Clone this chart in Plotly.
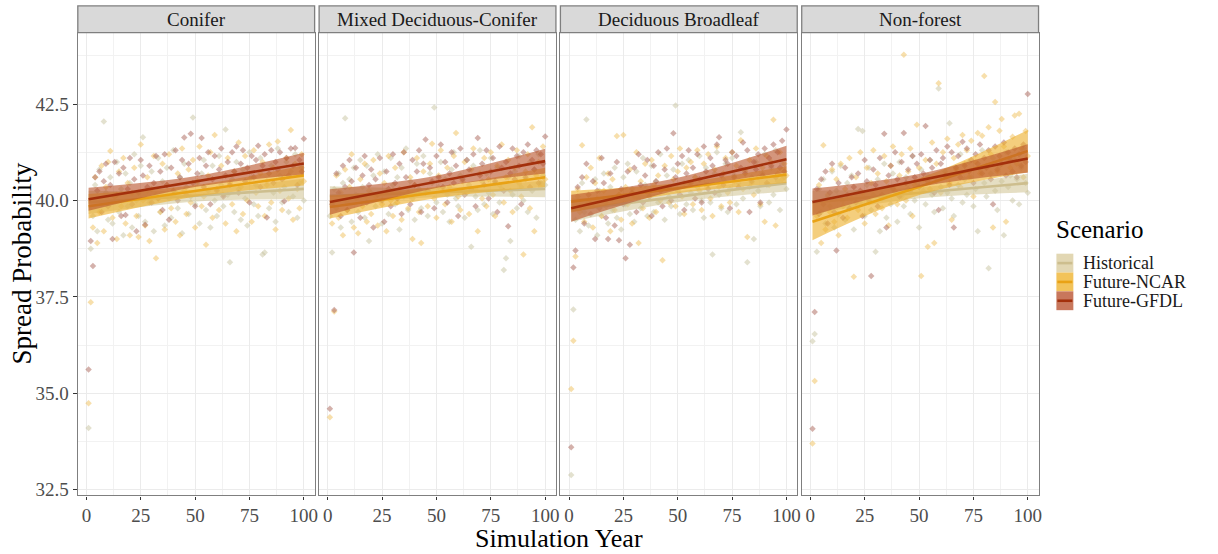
import plotly.graph_objects as go

W, H = 1218, 554

facets = ["Conifer", "Mixed Deciduous-Conifer", "Deciduous Broadleaf", "Non-forest"]
scenarios = ["Historical", "Future-NCAR", "Future-GFDL"]
years = list(range(1, 101))
x_ticks = [0, 25, 50, 75, 100]
y_ticks = [32.5, 35.0, 37.5, 40.0, 42.5]
y_tick_text = ["32.5", "35.0", "37.5", "40.0", "42.5"]

# ---------------- scatter values (years 1..100) ----------------
hist_conifer = [34.10, 38.75, 39.60, 40.40, 39.20, 40.80, 39.90, 42.05, 40.20, 39.50,
                40.60, 39.40, 40.10, 41.00, 39.70, 40.30, 39.10, 40.70, 39.85, 40.45,
                39.30, 41.20, 40.00, 39.60, 40.90, 41.64, 39.45, 40.25, 39.95, 40.75,
                39.20, 40.15, 41.10, 39.70, 40.50, 39.35, 40.85, 40.05, 39.55, 41.30,
                40.20, 39.80, 40.60, 39.15, 40.95, 40.35, 39.65, 40.10, 42.15, 39.90,
                40.45, 39.40, 40.70, 41.05, 39.75, 40.25, 39.30, 40.90, 40.00, 39.60,
                41.15, 40.40, 39.85, 41.84, 40.15, 38.40, 40.55, 39.70, 41.00, 40.30,
                39.50, 40.80, 40.05, 39.35, 41.25, 40.60, 39.90, 40.40, 39.60, 41.10,
                38.60, 38.65, 40.50, 39.80, 40.90, 40.20, 39.45, 41.35, 40.65, 39.95,
                40.35, 41.00, 39.70, 40.75, 40.10, 41.20, 39.55, 40.45, 40.85, 40.00]
ncar_conifer = [34.74, 37.36, 39.30, 40.60, 38.90, 39.70, 40.90, 39.20, 40.35, 41.00,
                41.28, 39.55, 40.10, 39.00, 40.75, 39.85, 41.10, 39.40, 40.45, 39.10,
                40.20, 40.85, 39.60, 39.05, 41.45, 40.00, 39.35, 40.60, 38.95, 40.30,
                41.15, 38.50, 40.05, 39.70, 40.95, 39.25, 40.40, 41.20, 39.80, 40.15,
                39.45, 40.70, 39.10, 41.35, 40.25, 39.65, 40.80, 39.95, 41.05, 39.30,
                40.50, 41.40, 39.85, 40.10, 38.85, 40.65, 41.25, 39.55, 41.70, 40.30,
                39.75, 40.90, 40.15, 39.40, 41.10, 40.45, 39.90, 40.75, 39.20, 41.50,
                40.35, 39.65, 41.15, 40.00, 40.55, 39.45, 41.30, 40.20, 39.85, 40.70,
                41.00, 39.60, 40.40, 41.45, 39.95, 40.85, 39.25, 41.53, 40.25, 39.75,
                40.60, 41.10, 40.05, 41.83, 39.50, 40.95, 40.30, 39.80, 41.20, 40.50]
gfdl_conifer = [35.62, 38.95, 38.30, 40.60, 40.25, 40.75, 39.70, 40.50, 40.95, 39.85,
                40.40, 39.00, 41.00, 40.15, 40.70, 39.60, 40.85, 39.62, 40.30, 41.10,
                39.90, 40.55, 39.20, 40.20, 41.05, 40.65, 39.37, 40.35, 40.90, 39.95,
                40.45, 41.15, 40.05, 40.75, 39.75, 41.20, 40.40, 39.50, 40.85, 40.25,
                41.30, 40.00, 40.60, 41.05, 41.63, 40.15, 40.95, 41.73, 40.45, 39.85,
                40.70, 41.10, 41.62, 40.35, 40.90, 41.25, 39.90, 40.55, 41.15, 40.25,
                40.80, 41.35, 40.10, 40.65, 41.00, 40.40, 41.25, 40.75, 41.40, 40.20,
                40.95, 41.30, 40.50, 40.85, 39.95, 41.15, 40.60, 41.05, 41.42, 40.35,
                40.90, 41.20, 39.56, 40.70, 41.30, 40.45, 41.00, 40.80, 41.25, 40.55,
                39.98, 41.10, 40.65, 41.35, 40.90, 41.36, 40.40, 41.05, 40.75, 41.60]

hist_mixed = [39.60, 38.65, 40.30, 39.80, 40.70, 39.30, 40.45, 42.13, 39.95, 40.55,
              39.45, 40.85, 40.15, 39.70, 41.05, 40.35, 39.55, 40.90, 38.95, 40.20,
              40.65, 39.85, 41.20, 40.00, 39.40, 40.75, 40.25, 39.65, 41.10, 40.40,
              39.90, 40.60, 39.25, 40.85, 40.10, 41.35, 39.75, 40.50, 40.05, 39.50,
              40.95, 40.30, 39.80, 41.15, 40.20, 39.60, 40.70, 40.45, 42.41, 39.95,
              40.35, 41.00, 39.70, 40.55, 40.15, 39.45, 40.80, 41.25, 40.05, 39.85,
              40.65, 40.25, 39.55, 41.05, 40.40, 38.80, 40.90, 40.10, 39.75, 41.30,
              40.50, 39.90, 40.70, 40.20, 41.10, 39.65, 40.45, 40.85, 39.95, 40.30,
              38.20, 38.50, 40.60, 38.95, 40.15, 40.75, 39.80, 41.15, 40.35, 40.00,
              40.55, 39.70, 41.00, 40.25, 40.80, 39.55, 41.20, 40.45, 40.65, 40.40]
ncar_mixed = [34.38, 39.40, 37.12, 40.65, 39.55, 40.20, 39.10, 40.80, 39.75, 40.35,
              41.20, 39.30, 40.05, 39.15, 40.55, 39.85, 40.95, 39.45, 40.25, 39.65,
              41.05, 40.10, 39.35, 40.70, 39.90, 40.45, 39.20, 41.15, 40.00, 39.60,
              40.85, 39.95, 40.30, 39.50, 41.25, 40.15, 39.80, 40.60, 39.00, 40.40,
              41.10, 39.70, 38.90, 40.75, 40.20, 39.85, 40.95, 41.47, 40.05, 39.55,
              40.65, 41.30, 40.25, 39.90, 40.85, 40.35, 39.45, 41.15, 41.75, 40.10,
              39.75, 40.50, 41.00, 40.20, 39.65, 40.80, 41.35, 40.30, 39.20, 40.70,
              40.05, 41.10, 39.85, 40.55, 41.25, 40.15, 39.60, 40.90, 40.40, 41.45,
              39.95, 40.60, 41.05, 40.25, 39.70, 40.85, 41.30, 40.45, 40.10, 38.60,
              40.75, 41.20, 39.80, 41.90, 39.20, 40.65, 41.00, 40.35, 41.40, 40.55]
gfdl_mixed = [34.60, 39.90, 37.16, 40.70, 40.20, 39.60, 40.90, 40.35, 39.75, 41.05,
              40.50, 38.65, 40.85, 40.10, 39.55, 40.65, 41.15, 39.95, 40.40, 40.80,
              39.30, 40.55, 40.15, 41.10, 40.00, 39.45, 40.75, 40.30, 39.85, 41.20,
              40.45, 40.05, 40.95, 39.65, 41.25, 40.60, 40.20, 39.90, 41.05, 40.40,
              40.75, 41.30, 39.70, 40.95, 41.58, 40.25, 40.85, 40.50, 39.80, 41.15,
              40.60, 41.45, 40.35, 41.00, 39.95, 40.70, 41.25, 40.45, 40.90, 39.60,
              41.35, 40.55, 40.15, 41.05, 40.80, 40.30, 41.20, 39.85, 41.62, 40.65,
              40.95, 40.40, 41.30, 40.05, 40.75, 41.10, 40.50, 39.70, 41.40, 40.85,
              40.25, 41.00, 39.33, 40.70, 41.35, 40.55, 41.15, 40.90, 39.90, 41.25,
              40.60, 41.45, 40.35, 41.05, 40.80, 41.30, 40.45, 41.20, 40.95, 41.66]

hist_decid = [32.88, 37.17, 39.50, 40.10, 39.20, 40.45, 39.70, 42.10, 39.35, 40.00,
              39.85, 40.55, 39.10, 40.25, 39.60, 40.70, 39.95, 39.40, 40.35, 39.75,
              40.85, 39.55, 40.15, 39.25, 40.60, 39.90, 40.95, 39.65, 40.30, 39.45,
              40.75, 40.05, 39.80, 41.10, 40.40, 39.60, 40.20, 40.90, 39.70, 40.50,
              39.95, 41.20, 40.30, 39.50, 40.65, 40.10, 39.85, 40.80, 42.46, 40.25,
              39.65, 40.95, 40.45, 39.90, 41.05, 40.20, 39.75, 40.60, 40.35, 41.15,
              40.00, 39.55, 40.85, 40.40, 39.95, 38.60, 40.70, 41.25, 40.15, 39.80,
              40.55, 40.95, 39.70, 40.30, 41.10, 40.65, 39.90, 40.45, 41.77, 40.05,
              40.80, 38.40, 40.35, 40.60, 39.00, 41.00, 40.25, 39.85, 40.70, 41.20,
              40.40, 39.95, 40.85, 40.15, 41.30, 40.50, 39.75, 40.95, 40.60, 40.30]
ncar_decid = [35.11, 36.36, 38.55, 40.30, 39.70, 41.43, 39.45, 40.60, 39.95, 40.85,
              39.30, 40.45, 40.05, 41.10, 39.60, 40.25, 39.85, 40.70, 39.20, 40.55,
              39.75, 41.67, 40.15, 39.50, 41.70, 40.35, 39.90, 40.80, 39.40, 40.10,
              41.25, 38.90, 40.50, 39.80, 40.95, 40.20, 39.55, 41.05, 40.40, 39.70,
              40.65, 40.00, 38.45, 40.90, 40.30, 39.95, 41.15, 40.55, 39.85, 40.75,
              41.35, 40.10, 39.65, 40.85, 40.45, 41.00, 39.90, 40.60, 41.30, 40.25,
              39.75, 40.95, 40.40, 41.20, 40.05, 39.60, 40.80, 41.40, 40.35, 39.85,
              40.70, 41.10, 40.20, 39.95, 41.25, 40.50, 40.90, 39.70, 41.56, 40.30,
              40.75, 39.05, 41.05, 40.45, 40.15, 41.35, 40.60, 39.90, 40.85, 39.45,
              41.15, 40.40, 41.00, 42.09, 39.35, 40.70, 41.25, 40.55, 40.95, 40.65]
gfdl_decid = [33.60, 38.26, 38.70, 40.35, 39.85, 40.60, 39.40, 40.95, 40.15, 39.65,
              40.50, 39.00, 40.25, 39.80, 41.10, 40.45, 39.55, 39.00, 40.70, 40.05,
              39.35, 41.00, 38.97, 40.30, 39.90, 38.50, 40.75, 38.85, 40.20, 40.85,
              39.70, 41.20, 40.40, 39.95, 40.65, 41.05, 40.10, 39.60, 40.90, 40.50,
              41.25, 40.25, 39.85, 40.80, 41.35, 40.35, 40.00, 41.74, 40.60, 40.95,
              40.15, 41.15, 39.75, 40.70, 41.30, 40.45, 40.85, 40.05, 41.20, 40.55,
              39.95, 41.40, 40.75, 40.30, 41.10, 40.90, 40.20, 41.45, 41.64, 40.65,
              40.40, 41.05, 40.95, 39.80, 41.25, 40.60, 41.15, 40.35, 40.85, 41.50,
              40.70, 41.30, 39.70, 40.50, 41.00, 40.80, 41.20, 39.95, 40.65, 41.35,
              40.45, 41.10, 40.90, 41.45, 40.60, 41.25, 40.85, 41.55, 40.75, 41.84]

hist_nonforest = [36.35, 36.54, 38.67, 40.30, 39.70, 40.55, 39.40, 40.10, 39.85, 40.75,
                  39.30, 40.25, 39.65, 40.90, 40.00, 39.50, 40.45, 39.80, 40.65, 39.25,
                  40.20, 41.85, 39.95, 41.80, 39.60, 40.40, 40.85, 39.75, 40.15, 38.67,
                  40.55, 39.20, 40.05, 40.95, 39.55, 40.35, 39.90, 40.70, 40.20, 39.45,
                  41.00, 40.10, 39.85, 40.60, 40.30, 39.65, 41.15, 40.00, 40.45, 39.30,
                  40.80, 40.25, 39.90, 40.65, 41.05, 40.15, 39.70, 40.50, 42.90, 40.35,
                  39.80, 40.75, 40.20, 42.00, 40.05, 39.60, 40.85, 40.40, 41.20, 39.95,
                  40.55, 40.15, 41.00, 40.60, 39.85, 40.30, 39.20, 40.80, 41.30, 40.45,
                  40.10, 38.24, 40.70, 41.10, 40.25, 39.75, 40.90, 40.50, 39.10, 41.25,
                  40.35, 40.65, 40.00, 41.05, 40.55, 39.90, 40.85, 41.35, 40.45, 40.20]
ncar_nonforest = [33.70, 35.32, 39.60, 40.40, 38.90, 41.43, 39.25, 40.15, 39.70, 40.80,
                  39.45, 40.55, 39.10, 40.95, 39.85, 40.30, 39.55, 41.10, 40.05, 38.02,
                  40.60, 39.75, 41.25, 40.20, 39.40, 40.85, 39.95, 40.45, 41.30, 39.65,
                  40.70, 40.10, 39.80, 41.15, 40.50, 39.35, 40.90, 41.40, 40.25, 39.90,
                  40.65, 41.20, 43.78, 40.00, 40.75, 41.35, 39.60, 40.40, 41.96, 40.85,
                  38.04, 40.55, 41.05, 38.80, 40.30, 41.50, 38.90, 40.95, 43.04, 40.20,
                  41.25, 40.65, 41.60, 40.45, 39.50, 41.10, 40.80, 41.45, 40.35, 41.70,
                  40.95, 41.30, 40.60, 41.55, 40.10, 41.00, 41.75, 40.70, 41.68, 43.23,
                  40.90, 41.90, 41.20, 39.30, 42.55, 40.75, 41.81, 42.11, 41.40, 39.45,
                  41.05, 40.85, 41.65, 42.20, 40.95, 42.25, 41.35, 40.60, 41.80, 41.15]
gfdl_nonforest = [34.08, 37.11, 40.30, 39.65, 40.55, 39.90, 40.75, 39.40, 40.20, 40.95,
                  39.70, 38.70, 40.45, 40.05, 39.55, 40.85, 40.15, 39.80, 40.60, 40.35,
                  39.95, 40.70, 40.25, 39.60, 41.05, 40.50, 40.00, 38.04, 40.80, 40.40,
                  39.85, 41.10, 40.15, 41.73, 39.30, 40.65, 40.90, 40.30, 41.25, 40.55,
                  40.10, 41.00, 41.75, 40.45, 40.80, 40.25, 41.15, 40.60, 40.95, 40.35,
                  41.20, 40.70, 41.93, 40.50, 41.05, 40.85, 40.20, 41.30, 39.75, 40.95,
                  41.10, 40.65, 41.40, 40.40, 41.25, 39.30, 40.85, 41.15, 40.60, 41.52,
                  40.90, 41.35, 40.75, 41.05, 40.45, 41.20, 40.95, 41.45, 40.70, 41.10,
                  40.85, 41.30, 40.55, 39.90, 41.40, 40.80, 41.15, 40.95, 41.50, 40.65,
                  41.25, 41.05, 40.75, 41.35, 40.60, 41.20, 40.90, 41.45, 41.00, 42.76]

# ---------------- fitted lines (lm), per facet ----------------
fit_x = [1, 100]
band_x = [1, 50.5, 100]
hist_fit_x1 = [39.95, 40.12, 39.75, 39.95]
hist_fit_x100 = [40.30, 40.30, 40.45, 40.45]
hist_ci_x1 = [0.30, 0.25, 0.30, 0.30]
hist_ci_mid = [0.15, 0.12, 0.14, 0.14]
hist_ci_x100 = [0.27, 0.22, 0.22, 0.24]

ncar_fit_x1 = [39.85, 39.83, 39.97, 39.45]
ncar_fit_x100 = [40.65, 40.60, 40.67, 41.28]
ncar_ci_x1 = [0.32, 0.30, 0.28, 0.48]
ncar_ci_mid = [0.15, 0.15, 0.13, 0.22]
ncar_ci_x100 = [0.26, 0.25, 0.22, 0.55]

gfdl_fit_x1 = [40.03, 39.96, 39.80, 39.96]
gfdl_fit_x100 = [40.96, 41.02, 41.07, 41.09]
gfdl_ci_x1 = [0.30, 0.33, 0.35, 0.35]
gfdl_ci_mid = [0.14, 0.16, 0.16, 0.17]
gfdl_ci_x100 = [0.28, 0.32, 0.35, 0.37]

points = {
    "Historical": [hist_conifer, hist_mixed, hist_decid, hist_nonforest],
    "Future-NCAR": [ncar_conifer, ncar_mixed, ncar_decid, ncar_nonforest],
    "Future-GFDL": [gfdl_conifer, gfdl_mixed, gfdl_decid, gfdl_nonforest],
}
fits = {
    "Historical": (hist_fit_x1, hist_fit_x100, hist_ci_x1, hist_ci_mid, hist_ci_x100),
    "Future-NCAR": (ncar_fit_x1, ncar_fit_x100, ncar_ci_x1, ncar_ci_mid, ncar_ci_x100),
    "Future-GFDL": (gfdl_fit_x1, gfdl_fit_x100, gfdl_ci_x1, gfdl_ci_mid, gfdl_ci_x100),
}

# ---------------- styles ----------------
line_col = {"Historical": "#CDBE8E", "Future-NCAR": "#E9A215", "Future-GFDL": "#A3300C"}
band_col = {"Historical": "rgba(208,194,146,0.55)", "Future-NCAR": "rgba(238,176,45,0.62)",
            "Future-GFDL": "rgba(185,85,45,0.62)"}
key_col = {"Historical": "#E2D7B3", "Future-NCAR": "#F2C35A", "Future-GFDL": "#C8775C"}
pt_col = {"Historical": "rgba(200,196,160,0.50)", "Future-NCAR": "rgba(240,192,90,0.50)",
          "Future-GFDL": "rgba(170,100,88,0.50)"}

FONT = "Liberation Serif"
border = "#7F7F7F"


def px_x(p):
    return p / W


def px_y(p):
    return 1 - p / H


panel_left = [78, 319.9, 561.8, 803.7]
panel_w = 237.4
panel_top, panel_bottom, strip_top = 33, 500, 6

fig = go.Figure()
layout = {}
shapes, annotations = [], []

for i, facet in enumerate(facets):
    sfx = "" if i == 0 else str(i + 1)
    xa, ya = "x" + sfx, "y" + sfx
    # points
    for s in scenarios:
        fig.add_trace(go.Scatter(x=years, y=points[s][i], mode="markers", xaxis=xa, yaxis=ya,
                                 marker=dict(symbol="diamond", size=5, color=pt_col[s], line=dict(width=0)),
                                 showlegend=False, hoverinfo="skip"))
    # smooths
    for s in scenarios:
        f1, f100, c1, cm, c100 = fits[s]
        a, b = f1[i], f100[i]
        mid = (a + b) / 2
        lower = [a - c1[i], mid - cm[i], b - c100[i]]
        upper = [a + c1[i], mid + cm[i], b + c100[i]]
        fig.add_trace(go.Scatter(x=band_x, y=lower, mode="lines", xaxis=xa, yaxis=ya,
                                 line=dict(width=0, shape="spline", color=band_col[s]),
                                 showlegend=False, hoverinfo="skip"))
        fig.add_trace(go.Scatter(x=band_x, y=upper, mode="lines", xaxis=xa, yaxis=ya, fill="tonexty",
                                 fillcolor=band_col[s], line=dict(width=0, shape="spline", color=band_col[s]),
                                 showlegend=False, hoverinfo="skip"))
        fig.add_trace(go.Scatter(x=fit_x, y=[a, b], mode="lines", xaxis=xa, yaxis=ya,
                                 line=dict(width=2.6, color=line_col[s]),
                                 showlegend=False, hoverinfo="skip"))

    x0 = panel_left[i]
    x1 = x0 + panel_w
    layout["xaxis" + sfx] = dict(
        domain=[px_x(x0), px_x(x1)], anchor=ya, range=[-3.95, 104.95],
        tickvals=x_ticks, ticktext=[str(t) for t in x_ticks],
        ticks="outside", ticklen=3, tickcolor="#333333", tickwidth=1,
        tickfont=dict(family=FONT, size=19, color="#4D4D4D"),
        showgrid=True, gridcolor="#EBEBEB", gridwidth=1,
        minor=dict(tickvals=[12.5, 37.5, 62.5, 87.5], showgrid=True, gridcolor="#F2F2F2", gridwidth=0.6,
                   ticks=""),
        showline=True, mirror=True, linecolor=border, linewidth=1.3,
        zeroline=False, fixedrange=True,
    )
    layout["yaxis" + sfx] = dict(
        domain=[px_y(panel_bottom), px_y(panel_top)], anchor=xa, range=[32.35, 44.35],
        tickvals=y_ticks, ticktext=y_tick_text,
        ticks="outside" if i == 0 else "", ticklen=4, tickcolor="#333333", tickwidth=1,
        showticklabels=(i == 0),
        tickfont=dict(family=FONT, size=19, color="#4D4D4D"),
        showgrid=True, gridcolor="#EBEBEB", gridwidth=1,
        minor=dict(tickvals=[33.75, 36.25, 38.75, 41.25, 43.75], showgrid=True, gridcolor="#F2F2F2",
                   gridwidth=0.6, ticks=""),
        showline=True, mirror=True, linecolor=border, linewidth=1.3,
        zeroline=False, fixedrange=True,
    )
    # strip
    shapes.append(dict(type="rect", xref="paper", yref="paper", x0=px_x(x0), x1=px_x(x1),
                       y0=px_y(panel_top), y1=px_y(strip_top), fillcolor="#D9D9D9",
                       line=dict(color=border, width=1.3), layer="above"))
    annotations.append(dict(text=facet, xref="paper", yref="paper", x=px_x((x0 + x1) / 2),
                            y=px_y((panel_top + strip_top) / 2), showarrow=False,
                            xanchor="center", yanchor="middle",
                            font=dict(family=FONT, size=19, color="#1A1A1A")))

# axis titles
annotations.append(dict(text="Simulation Year", xref="paper", yref="paper", x=px_x(560), y=px_y(543),
                        showarrow=False, xanchor="center", yanchor="middle", borderpad=0,
                        font=dict(family=FONT, size=26, color="#000000")))
annotations.append(dict(text="Spread Probability", xref="paper", yref="paper", x=px_x(22), y=px_y(266),
                        showarrow=False, xanchor="center", yanchor="middle", textangle=-90,
                        font=dict(family=FONT, size=27, color="#000000")))

# legend (drawn manually, ggplot style)
annotations.append(dict(text="Scenario", xref="paper", yref="paper", x=px_x(1057), y=px_y(232),
                        showarrow=False, xanchor="left", yanchor="middle",
                        font=dict(family=FONT, size=25, color="#000000")))
key_x0, key_x1 = 1059, 1076
key_h = 19
for k, s in enumerate(scenarios):
    ky0 = 256 + key_h * k
    ky1 = ky0 + key_h
    shapes.append(dict(type="rect", xref="paper", yref="paper", x0=px_x(key_x0), x1=px_x(key_x1),
                       y0=px_y(ky1), y1=px_y(ky0), fillcolor=key_col[s], line=dict(width=0)))
    shapes.append(dict(type="line", xref="paper", yref="paper", x0=px_x(key_x0 + 1), x1=px_x(key_x1 - 1),
                       y0=px_y((ky0 + ky1) / 2), y1=px_y((ky0 + ky1) / 2),
                       line=dict(color=line_col[s], width=2.6)))
    annotations.append(dict(text=s, xref="paper", yref="paper", x=px_x(1085), y=px_y((ky0 + ky1) / 2),
                            showarrow=False, xanchor="left", yanchor="middle", borderpad=0,
                            font=dict(family=FONT, size=18, color="#1A1A1A")))

fig.update_layout(
    width=W, height=H,
    margin=dict(l=0, r=0, t=0, b=0),
    paper_bgcolor="white", plot_bgcolor="white",
    showlegend=False,
    shapes=shapes, annotations=annotations,
    **layout,
)

fig.write_html("out.html")
